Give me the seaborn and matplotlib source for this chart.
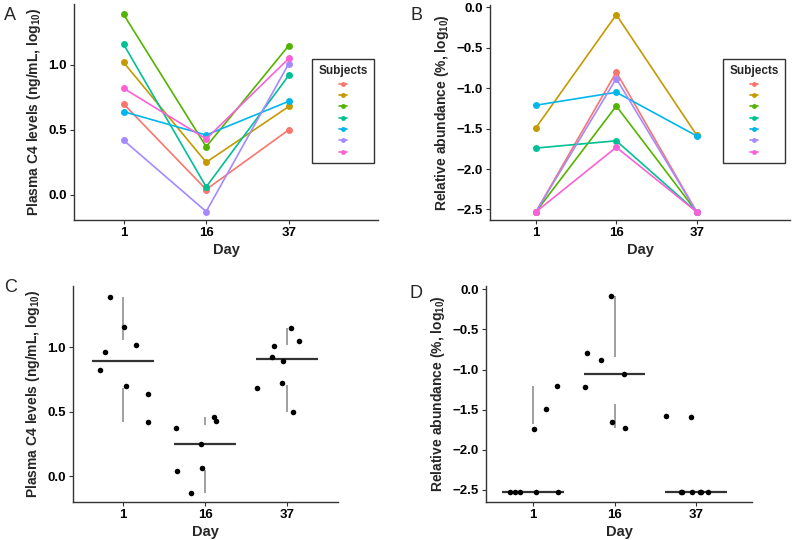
""" C4 levels and relative abundance over time, per subject and per day """

import numpy as np
import pandas as pd
import matplotlib
matplotlib.use("Agg")
import matplotlib.pyplot as plt
from matplotlib.lines import Line2D
import seaborn as sns

# --------------------------------------------------------
#       DATA
# --------------------------------------------------------
days = ["1", "16", "37"]
subjects = ["S1", "S2", "S3", "S4", "S5", "S6", "S7", "S8"]

# plasma C4 (ng/mL, log10), one value per subject (S8 has no day 16 sample)
c4_day1 = [0.70, 1.02, 1.39, 1.16, 0.64, 0.42, 0.82, 0.96]
c4_day16 = [0.04, 0.25, 0.37, 0.06, 0.46, -0.13, 0.43, np.nan]
c4_day37 = [0.50, 0.68, 1.15, 0.92, 0.72, 1.01, 1.05, 0.89]

# relative abundance (%, log10)
ab_day1 = [-2.53, -1.49, -2.53, -1.74, -1.21, -2.53, -2.53, -2.53]
ab_day16 = [-0.80, -0.09, -1.22, -1.65, -1.05, -0.88, -1.73, np.nan]
ab_day37 = [-2.53, -1.58, -2.53, -2.53, -1.59, -2.53, -2.53, -2.53]

# ggplot default hue palette for 7 subjects
subject_colors = ["#F8766D", "#C49A00", "#53B400", "#00C094",
                  "#00B6EB", "#A58AFF", "#FB61D7"]

C4_LABEL = "Plasma C4 levels (ng/mL, log$_{10}$)"
AB_LABEL = "Relative abundance (%, log$_{10}$)"


def to_long(v1, v16, v37):
    rows = []
    for d, vals in zip(days, [v1, v16, v37]):
        for s, v in zip(subjects, vals):
            rows.append({"subject": s, "day": d, "value": v})
    return pd.DataFrame(rows)


# --------------------------------------------------------
#       PLOTS
# --------------------------------------------------------
sns.set_theme(style="ticks")
plt.rcParams["font.family"] = ["Liberation Sans", "DejaVu Sans"]
plt.rcParams["font.weight"] = "bold"
plt.rcParams["mathtext.fontset"] = "custom"
plt.rcParams["mathtext.default"] = "bf"
plt.rcParams["mathtext.bf"] = "Liberation Sans:bold"
plt.rcParams["axes.edgecolor"] = "#333333"
plt.rcParams["xtick.color"] = "#333333"
plt.rcParams["ytick.color"] = "#333333"
plt.rcParams["xtick.labelcolor"] = "black"
plt.rcParams["ytick.labelcolor"] = "black"


def style_axes(ax, ylabel, ylim, xlim, yticks):
    sns.despine(ax=ax)
    ax.set_xlim(*xlim)
    ax.set_ylim(*ylim)
    ax.set_yticks(yticks)
    ax.set_xlabel("Day", fontsize=10.5, fontweight="bold", labelpad=3)
    ax.set_ylabel(ylabel, fontsize=10, fontweight="bold", labelpad=4)
    ax.tick_params(length=3, width=0.8, labelsize=9.5, pad=2)
    for lab in ax.get_xticklabels() + ax.get_yticklabels():
        lab.set_fontweight("bold")
    for sp in ax.spines.values():
        sp.set_linewidth(1.0)


def plot_lines(fig, ax, df, ylabel, ylim, xlim, yticks, legend_anchor):
    # only subjects with all three time points
    complete = df.groupby("subject")["value"].transform(lambda v: v.notna().all())
    dfc = df[complete]
    sns.lineplot(data=dfc, x="day", y="value", hue="subject",
                 palette=subject_colors, marker="o", markersize=5,
                 markeredgewidth=0, linewidth=1.2, errorbar=None,
                 sort=False, legend=False, ax=ax)
    style_axes(ax, ylabel, ylim, xlim, yticks)

    handles = [Line2D([0], [0], color=c, marker="o", markersize=3.5,
                      markeredgewidth=0, lw=1.2) for c in subject_colors]
    leg = fig.legend(handles, [""] * len(handles), title="Subjects",
                     loc="upper left", bbox_to_anchor=legend_anchor,
                     bbox_transform=fig.transFigure, fancybox=False,
                     framealpha=1, edgecolor="#333333", fontsize=6,
                     title_fontsize=8.5, handlelength=1.0, handletextpad=0,
                     labelspacing=0.42, borderpad=0.75, borderaxespad=0)
    leg.get_title().set_fontweight("bold")
    leg.get_frame().set_linewidth(1.0)
    leg._legend_box.align = "center"


def plot_summary(ax, df, ylabel, ylim, xlim, yticks):
    dfn = df.dropna()
    for i, d in enumerate(days):
        vals = dfn.loc[dfn["day"] == d, "value"].to_numpy()
        q1, med, q3 = np.percentile(vals, [25, 50, 75])
        iqr = q3 - q1
        lo = vals[vals >= q1 - 1.5 * iqr].min()
        hi = vals[vals <= q3 + 1.5 * iqr].max()
        if lo < q1:
            ax.vlines(i, lo, q1, color="#999999", lw=1.3, zorder=1)
        if hi > q3:
            ax.vlines(i, q3, hi, color="#999999", lw=1.3, zorder=1)
        ax.hlines(med, i - 0.38, i + 0.38, color="#333333", lw=1.6, zorder=1)
    np.random.seed(3)
    sns.stripplot(data=dfn, x="day", y="value", order=days, color="black",
                  size=4, jitter=0.38, linewidth=0, ax=ax, zorder=3)
    style_axes(ax, ylabel, ylim, xlim, yticks)


c4 = to_long(c4_day1, c4_day16, c4_day37)
ab = to_long(ab_day1, ab_day16, ab_day37)

W, H = 800, 540
fig = plt.figure(figsize=(W / 100, H / 100), dpi=100)


def axes_px(left, top, right, bottom):
    return fig.add_axes([left / W, 1 - bottom / H, (right - left) / W, (bottom - top) / H])


ax_a = axes_px(74, 4, 378, 220)
ax_b = axes_px(490, 5, 790, 220)
ax_c = axes_px(73, 286, 338, 502)
ax_d = axes_px(486, 286, 752, 502)

plot_lines(fig, ax_a, c4, C4_LABEL, (-0.195, 1.47), (-0.6, 3.08),
           [0.0, 0.5, 1.0], (312 / W, 1 - 59 / H))
plot_lines(fig, ax_b, ab, AB_LABEL, (-2.63, 0.03), (-0.57, 3.16),
           [-2.5, -2.0, -1.5, -1.0, -0.5, 0.0], (723 / W, 1 - 59 / H))
plot_summary(ax_c, c4, C4_LABEL, (-0.20, 1.474), (-0.61, 2.62), [0.0, 0.5, 1.0])
plot_summary(ax_d, ab, AB_LABEL, (-2.65, 0.04), (-0.58, 2.69),
             [-2.5, -2.0, -1.5, -1.0, -0.5, 0.0])

for letter, (x, y) in zip("ABCD", [(10, 15), (416, 15), (11, 287), (416, 293)]):
    fig.text(x / W, 1 - y / H, letter, fontsize=13, fontweight="normal",
             ha="center", va="center")

fig.savefig("out.png", dpi=100)
